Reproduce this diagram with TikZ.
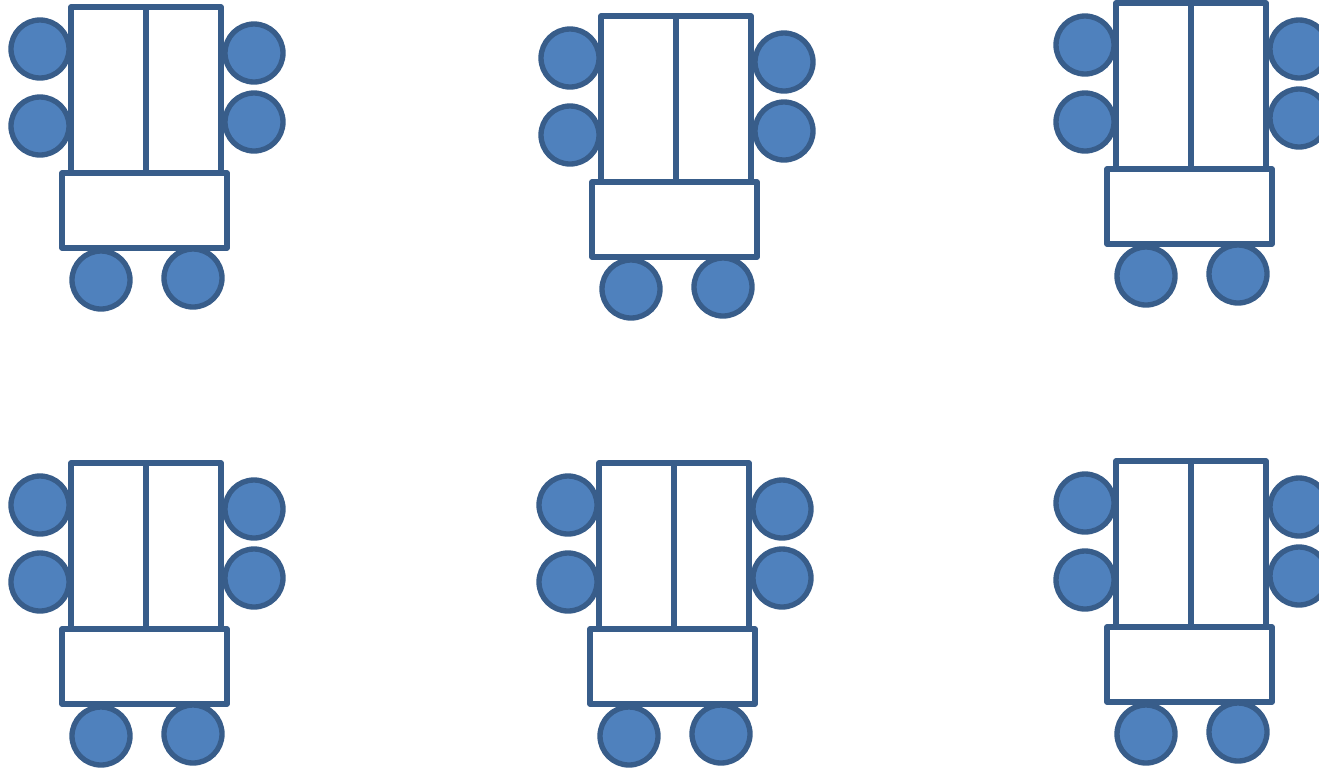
\documentclass[tikz,border=0pt]{standalone}
\usepackage{xcolor}
\usepackage{tikz}
\definecolor{chairfill}{HTML}{4F81BD}
\definecolor{edge}{HTML}{385D8A}

\begin{document}
\begin{tikzpicture}[
 x=0.75pt,y=-0.75pt,
 desk/.style={draw=edge,fill=white,line width=4pt,line join=round},
 chair/.style={circle,draw=edge,fill=chairfill,line width=4pt,inner sep=0pt,minimum size=43.5pt}
]
\useasboundingbox (0,0) rectangle (1319,769);
% six table groups, each shifted from the top-left one
\foreach \g/\dx/\dy in {1/0/0,2/530/9,3/1045/-4,4/0/456,5/528/456,6/1045/454}{
 \begin{scope}[shift={(\dx,\dy)}]
  \node[chair] (l1\g) at (40,49) {};
  \node[chair] (l2\g) at (40,126) {};
  \node[chair] (r1\g) at (254,53) {};
  \node[chair] (r2\g) at (254,122) {};
  \node[chair] (b1\g) at (101,280) {};
  \node[chair] (b2\g) at (193,278) {};
  \draw[desk] (71,7) rectangle (221,173);
  \draw[desk] (146,7) -- (146,173);
  \draw[desk] (62,173) rectangle (227,248);
 \end{scope}
}
\end{tikzpicture}
\end{document}
